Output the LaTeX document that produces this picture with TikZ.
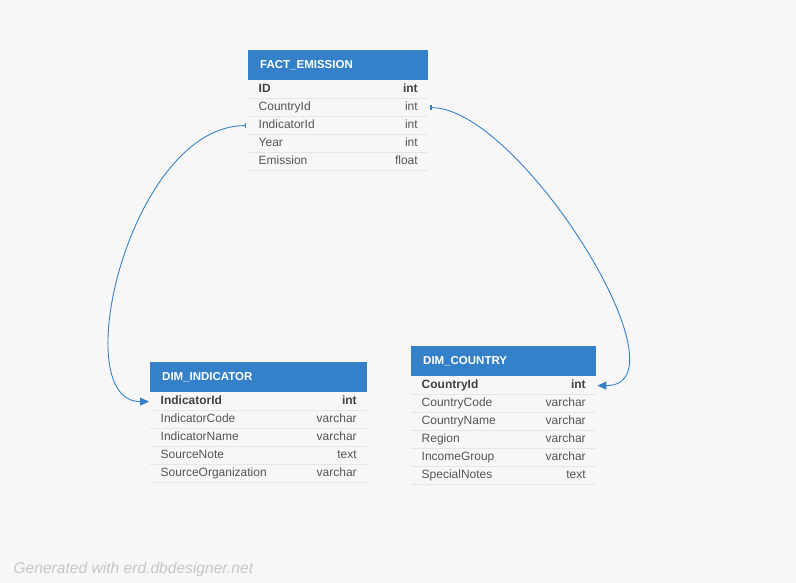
\documentclass[tikz,border=0pt]{standalone}
\usepackage{fontspec}
\setmainfont{Liberation Sans}
\usetikzlibrary{arrows.meta}

\definecolor{erdblue}{HTML}{3481CA}
\definecolor{erdbg}{HTML}{F7F7F7}
\definecolor{erdline}{HTML}{E6E6E6}
\definecolor{erdtext}{HTML}{555555}
\definecolor{erdkey}{HTML}{424242}
\definecolor{erdnote}{HTML}{C6C6C6}

\tikzset{
  tablehead/.style={fill=erdblue, text=white, font=\fontsize{11.5}{13}\selectfont\bfseries,
    minimum height=30pt, inner xsep=12pt, inner ysep=0pt, text height=8pt, text depth=1pt,
    anchor=north west, text width=#1},
  tablerow/.style={text=erdtext, font=\fontsize{12}{14}\selectfont,
    minimum height=18pt, inner xsep=10.5pt, inner ysep=0pt, text height=9pt, text depth=3pt,
    anchor=north west, text width=#1},
  rowline/.style={draw=erdline, line width=0.8pt},
  fk/.style={draw=erdblue, line width=0.9pt,
    {Bar[width=5pt,line width=1.5pt]}-{Triangle[length=9pt,width=8pt]}}
}

\begin{document}
\begin{tikzpicture}[x=1pt,y=-1pt]

% Fondo
\fill[erdbg] (0,0) rectangle (796,583);

% FACT_EMISSION
\node[tablehead=156pt] (fact) at (248,50) {FACT\_EMISSION};
\foreach \field/\type [count=\i] in {ID/int, CountryId/int, IndicatorId/int, Year/int, Emission/float} {
  \node[tablerow=159pt] (fact-\i) at ([yshift={-18pt*(\i-1)}]fact.south west)
    {\ifnum\i=1 \color{erdkey}\bfseries\fi\field\hfill\type};
  \draw[rowline] (fact-\i.south west) -- (fact-\i.south east);
}

% DIM_INDICATOR
\node[tablehead=193pt] (ind) at (150,362) {DIM\_INDICATOR};
\foreach \field/\type [count=\i] in {IndicatorId/int, IndicatorCode/varchar, IndicatorName/varchar,
    SourceNote/text, SourceOrganization/varchar} {
  \node[tablerow=196pt] (ind-\i) at ([yshift={-18pt*(\i-1)}]ind.south west)
    {\ifnum\i=1 \color{erdkey}\bfseries\fi\field\hfill\type};
  \draw[rowline] (ind-\i.south west) -- (ind-\i.south east);
}

% DIM_COUNTRY
\node[tablehead=161pt] (ctry) at (411,346) {DIM\_COUNTRY};
\foreach \field/\type [count=\i] in {CountryId/int, CountryCode/varchar, CountryName/varchar,
    Region/varchar, IncomeGroup/varchar, SpecialNotes/text} {
  \node[tablerow=164pt] (ctry-\i) at ([yshift={-18pt*(\i-1)}]ctry.south west)
    {\ifnum\i=1 \color{erdkey}\bfseries\fi\field\hfill\type};
  \draw[rowline] (ctry-\i.south west) -- (ctry-\i.south east);
}

% Relaciones
\draw[fk] ([xshift=-2pt]fact-3.west) .. controls +(-116,0) and +(-84,0) .. ([xshift=-1pt]ind-1.west);
\draw[fk] ([xshift=2pt]fact-2.east) .. controls +(90,0) and +(95,0) .. ([xshift=1pt]ctry-1.east);

% Pie
\node[anchor=base west, text=erdnote, font=\fontsize{15.6}{18}\selectfont\itshape] (credit)
  at (10,573) {Generated with erd.dbdesigner.net};

\end{tikzpicture}
\end{document}
